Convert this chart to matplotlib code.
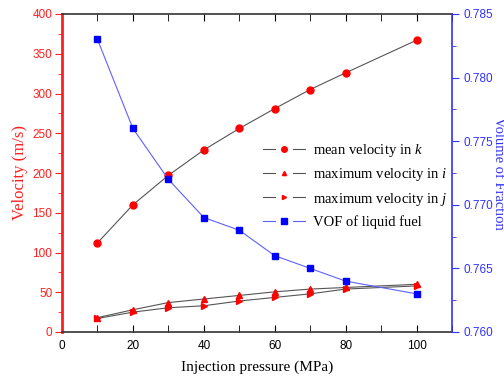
import matplotlib
matplotlib.use("Agg")
import matplotlib.pyplot as plt
from matplotlib.ticker import MultipleLocator
from matplotlib.lines import Line2D
from matplotlib.legend_handler import HandlerLine2D

pressure = [10, 20, 30, 40, 50, 60, 70, 80, 100]
mean_k = [112, 160, 197, 229, 256, 281, 305, 326, 367]
max_i = [18, 28, 37, 41.5, 46, 50.5, 54, 56, 60]
max_j = [17, 25, 30.5, 33, 39, 43.5, 48, 54, 58]
vof = [0.783, 0.776, 0.772, 0.769, 0.768, 0.766, 0.765, 0.764, 0.763]

labels = [r"mean velocity in $\mathit{k}$", r"maximum velocity in $\mathit{i}$",
          r"maximum velocity in $\mathit{j}$", "VOF of liquid fuel"]

plt.rcParams["mathtext.fontset"] = "custom"
plt.rcParams["mathtext.rm"] = "Liberation Serif"
plt.rcParams["mathtext.it"] = "Liberation Serif:italic"

RED = "#ff2020"
BLUE = "#3030ff"
serif = ["Liberation Serif", "DejaVu Serif"]
sans = ["Liberation Sans", "DejaVu Sans"]


class GapHandler(HandlerLine2D):
    def create_artists(self, legend, orig_handle, xdescent, ydescent,
                       width, height, fontsize, trans):
        y = height / 2.0 - ydescent
        x0 = -xdescent
        seg = 0.29 * width
        arts = []
        for a, b in [(x0, x0 + seg), (x0 + width - seg, x0 + width)]:
            ln = Line2D([a, b], [y, y], color=orig_handle.get_color(),
                        lw=orig_handle.get_linewidth())
            ln.set_transform(trans)
            arts.append(ln)
        mk = Line2D([x0 + width / 2.0], [y], linestyle="none",
                    marker=orig_handle.get_marker(),
                    ms=orig_handle.get_markersize(),
                    mfc=orig_handle.get_markerfacecolor(),
                    mec=orig_handle.get_markeredgecolor())
        mk.set_transform(trans)
        arts.append(mk)
        return arts


fig = plt.figure(figsize=(5.04, 3.76), dpi=100)
ax = fig.add_axes([62/504, 1-332/376, (452-62)/504, (332-14)/376])
ax2 = ax.twinx()

ax.plot(pressure, mean_k, color="#555555", lw=0.8, marker="o", ms=5,
        mfc="red", mec="red")
ax.plot(pressure, max_i, color="#555555", lw=0.8, marker="^", ms=4,
        mfc="red", mec="red")
ax.plot(pressure, max_j, color="#555555", lw=0.8, marker=">", ms=4,
        mfc="red", mec="red")
ax2.plot(pressure, vof, color="#6060ff", lw=0.8, marker="s", ms=5,
         mfc="blue", mec="blue")

ax.set_xlim(0, 110)
ax.set_ylim(0, 400)
ax2.set_ylim(0.760, 0.785)

ax.xaxis.set_major_locator(MultipleLocator(20))
ax.xaxis.set_minor_locator(MultipleLocator(10))
ax.yaxis.set_major_locator(MultipleLocator(50))
ax.yaxis.set_minor_locator(MultipleLocator(25))
ax2.yaxis.set_major_locator(MultipleLocator(0.005))
ax2.yaxis.set_minor_locator(MultipleLocator(0.0025))
ax2.yaxis.set_major_formatter(plt.FormatStrFormatter("%.3f"))

ax.tick_params(axis="x", which="both", direction="in", top=True, labelsize=8.5, length=5, pad=6)
ax.tick_params(axis="y", which="major", direction="out", colors=RED, length=5, labelsize=8.5, pad=2)
ax.tick_params(axis="y", which="minor", direction="out", colors=RED, length=3)
ax2.tick_params(axis="y", which="major", direction="out", colors=BLUE, length=5, labelsize=8.5, pad=3)
ax2.tick_params(axis="y", which="minor", direction="out", colors=BLUE, length=3)

for lab in ax.get_xticklabels() + ax.get_yticklabels() + ax2.get_yticklabels():
    lab.set_fontfamily(sans)
for lab in ax.get_yticklabels():
    lab.set_color(RED)
for lab in ax2.get_yticklabels():
    lab.set_color(BLUE)

ax.spines["left"].set_color(RED)
ax.spines["left"].set_linewidth(2)
ax2.spines["left"].set_visible(False)
ax2.spines["right"].set_color(BLUE)
ax2.spines["right"].set_linewidth(1.2)
ax.spines["right"].set_visible(False)
for s in ["top", "bottom"]:
    ax.spines[s].set_linewidth(1.2)
    ax.spines[s].set_color("#333333")
    ax2.spines[s].set_visible(False)

ax.set_xlabel("Injection pressure (MPa)", family=serif, fontsize=11, labelpad=6)
ax.set_ylabel("Velocity (m/s)", family=serif, fontsize=12, color=RED, labelpad=3)
ax2.set_ylabel("Volume of Fraction", family=serif, fontsize=10.5, color=BLUE,
               rotation=270, labelpad=9)

fs = 10.5
hl = 2.9
handles = [
    Line2D([], [], color="#555555", lw=0.8, marker="o", ms=4, mfc="red", mec="red"),
    Line2D([], [], color="#555555", lw=0.8, marker="^", ms=3, mfc="red", mec="red"),
    Line2D([], [], color="#555555", lw=0.8, marker=">", ms=3, mfc="red", mec="red"),
    Line2D([], [], color="#6060ff", lw=0.8, marker="s", ms=4, mfc="blue", mec="blue"),
]

leg = ax.legend(handles=handles, labels=labels, loc="upper left",
                bbox_to_anchor=(263/504, 1-142/376), bbox_transform=fig.transFigure,
                frameon=False, borderpad=0, borderaxespad=0,
                prop={"family": serif, "size": fs}, handlelength=hl,
                handletextpad=0.5, labelspacing=0.5,
                handler_map={Line2D: GapHandler()})

fig.savefig("out.png", dpi=100)
